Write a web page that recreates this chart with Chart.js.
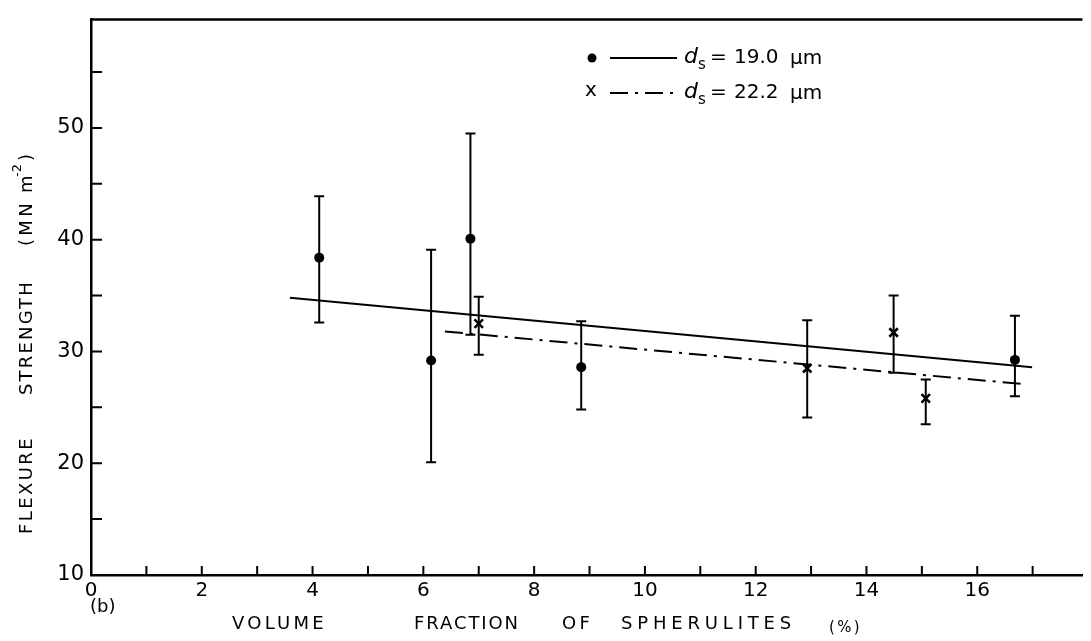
<!DOCTYPE html>
<html>
<head>
<meta charset="utf-8">
<script src="https://cdn.jsdelivr.net/npm/chart.js@4.4.1/dist/chart.umd.min.js"></script>
<style>
  html, body { margin: 0; padding: 0; background: #fff; }
  #wrap { width: 1091px; height: 641px; }
</style>
</head>
<body>
<div id="wrap"><canvas id="chart" width="1091" height="641"></canvas></div>
<script>
// d_s = 19.0 um (dots)
const dotX  = [4.12, 6.14, 6.85, 8.85, 16.68];
const dotY  = [38.4, 29.2, 40.1, 28.6, 29.25];
const dotHi = [43.9, 39.1, 49.5, 32.7, 33.2];
const dotLo = [32.6, 20.1, 31.5, 24.8, 26.0];

// d_s = 22.2 um (crosses)
const crossX  = [7.0, 12.93, 14.49, 15.07];
const crossY  = [32.5, 28.5, 31.7, 25.8];
const crossHi = [34.9, 32.8, 35.0, 27.5];
const crossLo = [29.7, 24.1, 28.1, 23.5];

// fitted lines (end points)
const fitSolidX = [3.59, 16.99];
const fitSolidY = [34.8, 28.6];
const fitDashX  = [6.39, 16.9];
const fitDashY  = [31.8, 27.05];

// axes
const xTicks = [0,1,2,3,4,5,6,7,8,9,10,11,12,13,14,15,16,17];
const xLabels = [0,2,4,6,8,10,12,14,16];
const yTicks = [10,15,20,25,30,35,40,45,50,55];
const yLabels = [10,20,30,40,50];

const pts = (xs, ys) => xs.map((x, i) => ({ x: x, y: ys[i] }));
const DASHDOT = [18, 7, 3, 7];
const FONT = '"DejaVu Sans"';

function fitText(ctx, text, x, y, width) {
    ctx.letterSpacing = '0px';
    let w = ctx.measureText(text).width;
    let ls = text.length > 1 ? (width - w) / text.length : 0;
    ctx.letterSpacing = ls + 'px';
    ctx.fillText(text, x, y);
    ctx.letterSpacing = '0px';
}

const decor = {
    id: 'decor',
    afterDatasetsDraw(chart) {
        const ctx = chart.ctx;
        const xs = chart.scales.x, ys = chart.scales.y;
        const a = chart.chartArea;
        ctx.save();
        ctx.strokeStyle = '#000';
        ctx.lineCap = 'butt';

        // error bars
        ctx.lineWidth = 2;
        const bars = (X, Lo, Hi) => {
            for (let i = 0; i < X.length; i++) {
                let px = xs.getPixelForValue(X[i]);
                let p1 = ys.getPixelForValue(Lo[i]);
                let p2 = ys.getPixelForValue(Hi[i]);
                ctx.beginPath();
                ctx.moveTo(px, p1); ctx.lineTo(px, p2);
                ctx.moveTo(px - 5, p1); ctx.lineTo(px + 5, p1);
                ctx.moveTo(px - 5, p2); ctx.lineTo(px + 5, p2);
                ctx.stroke();
            }
        };
        bars(dotX, dotLo, dotHi);
        bars(crossX, crossLo, crossHi);

        // frame top line
        ctx.lineWidth = 2.5;
        ctx.beginPath();
        ctx.moveTo(a.left - 1, a.top); ctx.lineTo(a.right, a.top);
        ctx.stroke();

        // inward ticks
        ctx.lineWidth = 2;
        ctx.beginPath();
        xTicks.forEach(v => {
            let px = xs.getPixelForValue(v);
            ctx.moveTo(px, a.bottom); ctx.lineTo(px, a.bottom - 9);
        });
        yTicks.forEach(v => {
            let py = ys.getPixelForValue(v);
            ctx.moveTo(a.left, py); ctx.lineTo(a.left + 11, py);
        });
        ctx.stroke();

        // legend
        ctx.fillStyle = '#000';
        ctx.textBaseline = 'middle';
        const rows = [
            { y: 58, mark: 'dot', val: '19.0', dash: [] },
            { y: 93, mark: 'x', val: '22.2', dash: DASHDOT }
        ];
        rows.forEach(r => {
            if (r.mark === 'dot') {
                ctx.beginPath(); ctx.arc(592, r.y, 4.5, 0, Math.PI * 2); ctx.fill();
            } else {
                ctx.font = '20px ' + FONT;
                ctx.textAlign = 'center';
                ctx.fillText('x', 591, r.y - 2);
            }
            ctx.lineWidth = 2;
            ctx.setLineDash(r.dash);
            ctx.beginPath(); ctx.moveTo(610, r.y); ctx.lineTo(677, r.y); ctx.stroke();
            ctx.setLineDash([]);
            ctx.textAlign = 'left';
            ctx.font = 'italic 22px ' + FONT;
            ctx.fillText('d', 684, r.y - 1);
            ctx.font = '15px ' + FONT;
            ctx.fillText('s', 698, r.y + 7);
            ctx.font = '20px ' + FONT;
            ctx.fillText('=', 710, r.y);
            ctx.fillText(r.val, 734, r.y);
            ctx.fillText('\u03bcm', 790, r.y + 1);
        });

        // x axis title
        ctx.font = '18px ' + FONT;
        ctx.textAlign = 'left';
        ctx.textBaseline = 'middle';
        fitText(ctx, 'VOLUME', 232, 624, 95);
        fitText(ctx, 'FRACTION', 414, 624, 106);
        fitText(ctx, 'OF', 562, 624, 31);
        fitText(ctx, 'SPHERULITES', 621, 624, 175);
        ctx.font = '15px ' + FONT;
        fitText(ctx, '(%)', 829, 628, 33);
        ctx.font = '18px ' + FONT;
        ctx.fillText('(b)', 90, 607);

        // y axis title (rotated)
        ctx.translate(27, 0);
        ctx.rotate(-Math.PI / 2);
        ctx.font = '18px ' + FONT;
        ctx.textBaseline = 'middle';
        fitText(ctx, 'FLEXURE', -534, 0, 98);
        fitText(ctx, 'STRENGTH', -395, 0, 115);
        fitText(ctx, '(MN', -246, 0, 46);
        fitText(ctx, 'm', -193, 0, 17);
        ctx.font = '13px ' + FONT;
        ctx.fillText('-2', -177, -9);
        ctx.font = '18px ' + FONT;
        ctx.fillText(')', -161, 0);
        ctx.restore();
    }
};

new Chart(document.getElementById('chart'), {
    type: 'scatter',
    data: {
        datasets: [
            {
                data: pts(fitSolidX, fitSolidY), showLine: true,
                borderColor: '#000', borderWidth: 2, pointRadius: 0
            },
            {
                data: pts(fitDashX, fitDashY), showLine: true,
                borderColor: '#000', borderWidth: 2, borderDash: DASHDOT, pointRadius: 0
            },
            {
                data: pts(dotX, dotY), pointStyle: 'circle', pointRadius: 5,
                backgroundColor: '#000', borderColor: '#000', borderWidth: 0
            },
            {
                data: pts(crossX, crossY), pointStyle: 'crossRot', pointRadius: 6,
                borderColor: '#000', borderWidth: 2.5
            }
        ]
    },
    options: {
        responsive: false,
        animation: false,
        layout: { padding: { top: 10, right: 0, left: 0, bottom: 0 } },
        plugins: { legend: { display: false }, tooltip: { enabled: false } },
        scales: {
            x: {
                type: 'linear', min: 0, max: 17.9,
                afterBuildTicks: s => { s.ticks = xTicks.map(v => ({ value: v })); },
                afterFit: s => { s.height = 66; },
                grid: { display: false, drawTicks: false },
                border: { display: true, color: '#000', width: 2.5 },
                ticks: {
                    autoSkip: false, maxRotation: 0, padding: 4, color: '#000',
                    font: { family: 'DejaVu Sans', size: 20 },
                    callback: v => xLabels.includes(v) ? String(v) : ''
                }
            },
            y: {
                type: 'linear', min: 10, max: 59.7,
                afterBuildTicks: s => { s.ticks = yTicks.map(v => ({ value: v })); },
                afterFit: s => { s.width = 91; },
                grid: { display: false, drawTicks: false },
                border: { display: true, color: '#000', width: 2.5 },
                ticks: {
                    autoSkip: false, padding: 7, color: '#000',
                    font: { family: 'DejaVu Sans', size: 21 },
                    callback: v => yLabels.includes(v) ? String(v) : ''
                }
            }
        }
    },
    plugins: [decor]
});
</script>
</body>
</html>
